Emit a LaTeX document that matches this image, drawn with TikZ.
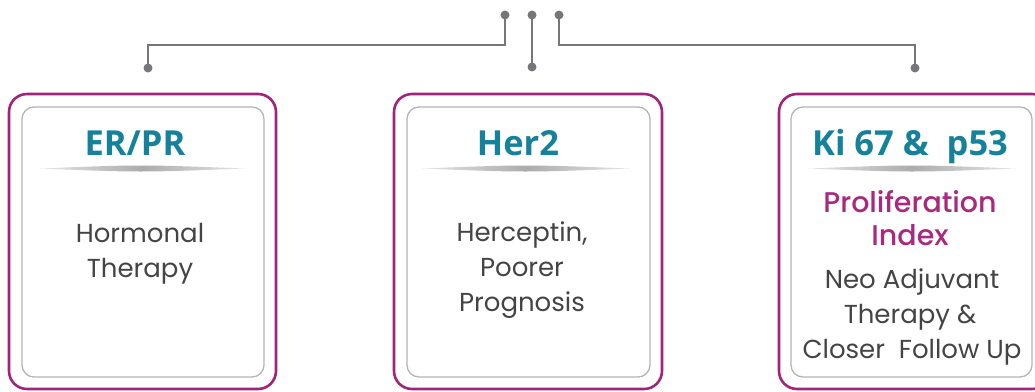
\documentclass[tikz,border=0pt]{standalone}
\usepackage{fontspec}
\setmainfont{Poppins}
\newfontfamily\headfont{Open Sans}
\newfontfamily\popmed{Poppins Medium}
\usetikzlibrary{calc}
\definecolor{teal}{HTML}{16819B}
\definecolor{mag}{HTML}{A3237B}
\definecolor{magtxt}{HTML}{A8297F}
\definecolor{conn}{HTML}{76777A}
\definecolor{inner}{HTML}{B4B4B4}
\definecolor{body}{HTML}{444444}
\tikzset{
  outerbox/.style={draw=mag, line width=2.6pt, rounded corners=18pt},
  innerbox/.style={draw=inner, line width=1.3pt, rounded corners=12pt},
  connline/.style={draw=conn, line width=2.4pt},
  dot/.style={circle, fill=conn, inner sep=0pt, minimum size=9pt},
  head/.style={anchor=base, inner sep=0pt, text=teal, font=\headfont\bfseries\fontsize{34.5}{40}\selectfont},
  bodytxt/.style={anchor=base, inner sep=0pt, text=body, font=\fontsize{26}{30}\selectfont},
  proltxt/.style={anchor=base, inner sep=0pt, text=magtxt, font=\popmed\fontsize{28.5}{30}\selectfont},
  sep/.style={left color=gray!20, right color=gray!20, middle color=gray!65}
}
\begin{document}
\begin{tikzpicture}[x=1pt,y=-1pt]
\useasboundingbox (0,0) rectangle (1035,391);
\clip (0,0) rectangle (1035,391);
% connectors
\node[dot] (t1) at (505,15) {};
\node[dot] (t2) at (532,15) {};
\node[dot] (t3) at (559,15) {};
\node[dot] (b1) at (148,68) {};
\node[dot] (b2) at (532,67) {};
\node[dot] (b3) at (915,68) {};
\coordinate (k1) at (505,45);
\coordinate (k3) at (559,45);
\draw[connline] (t1.center) -- (k1) -| (b1.center);
\draw[connline] (t2.center) -- (b2.center);
\draw[connline] (t3.center) -- (k3) -| (b3.center);
% boxes
\draw[outerbox] (9,94) rectangle (276,389);
\draw[innerbox] (22,107) rectangle (264,377);
\draw[outerbox] (394,94) rectangle (662,389);
\draw[innerbox] (407,107) rectangle (650,377);
\draw[outerbox] (779,94) rectangle (1050,389);
\draw[innerbox] (791,107) rectangle (1032,377);
% separators
\shade[sep] (40,168.5) .. controls (140,164.5) .. (245,168.5) .. controls (140,172.5) .. (40,168.5);
\shade[sep] (422,168.5) .. controls (525,164.5) .. (630,168.5) .. controls (525,172.5) .. (422,168.5);
\shade[sep] (808,168.5) .. controls (912,164.5) .. (1016,168.5) .. controls (912,172.5) .. (808,168.5);
% headings
\node[head] (h1) at (135,155) {ER/PR};
\node[head] (h2) at (518,155) {Her2};
\node[head] (h3) at (910,155) {Ki 67 \&\ \ p53};
% body
\node[bodytxt] (a1) at (140,242) {Hormonal};
\node[bodytxt] (a2) at (140,277) {Therapy};
\node[bodytxt] (m1) at (522,241) {Herceptin,};
\node[bodytxt] (m2) at (522,276) {Poorer};
\node[bodytxt] (m3) at (522,311) {Prognosis};
\node[proltxt] (p1) at (910,212) {Proliferation};
\node[proltxt] (p2) at (910,245) {Index};
\node[bodytxt] (r1) at (912,288) {Neo Adjuvant};
\node[bodytxt] (r2) at (910,323) {Therapy \&};
\node[bodytxt] (r3) at (912,358) {Closer\ \ Follow Up};
\end{tikzpicture}
\end{document}
